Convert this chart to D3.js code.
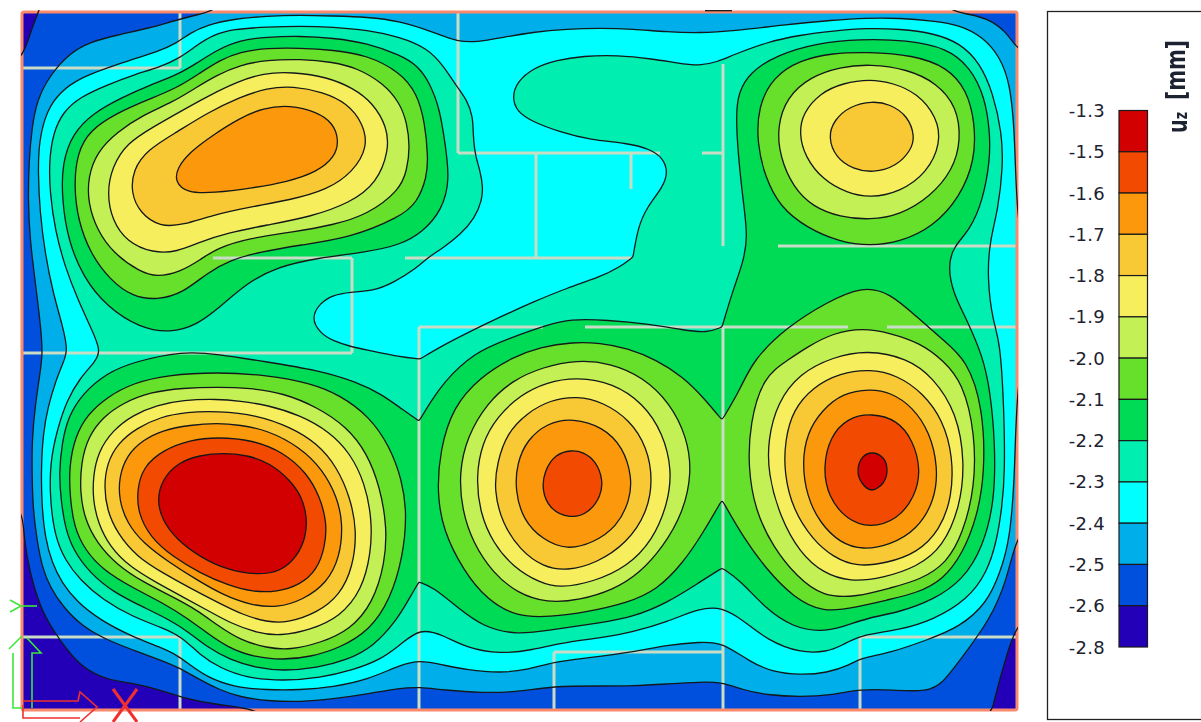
<!DOCTYPE html>
<html><head><meta charset="utf-8">
<script src="https://cdn.jsdelivr.net/npm/d3@7"></script>
<style>html,body{margin:0;padding:0;background:#fff;overflow:hidden}svg{display:block;filter:blur(0.3px)}text{font-family:"DejaVu Sans",sans-serif;fill:#1c2230}</style>
</head><body><svg id="c" width="1201" height="722"></svg>
<script>
// colour legend
const tickLabels = ["-1.3","-1.5","-1.6","-1.7","-1.8","-1.9","-2.0","-2.1","-2.2","-2.3","-2.4","-2.5","-2.6","-2.8"];
const bandColours = ["#d20000","#f24a00","#fb980c","#f9c935","#f7ee5e","#c2f055","#66e02a","#00db55","#00eeb0","#00ffff","#00aeea","#004fdd","#2300b8"];
// isolines, in plot units
const ringM26 = [[39,11],[31,30],[23,58],[8,62],[8,505],[23,510],[24,540],[30,573],[40,607],[53,630],[67,650],[83,668],[107,680],[133,683],[160,690],[183,698],[217,705],[263,709],[266,730],[988,730],[992,708],[1005,660],[1017,623],[1032,618],[1032,618],[1032,618],[1032,-8],[1032,-8],[1032,-8],[45,-8],[45,-8],[45,-8]];
const ringM25 = [[217,10],[200,14],[173,21],[150,28],[117,35],[90,42],[70,53],[50,75],[37,100],[32,127],[29,160],[28,200],[30,240],[35,280],[40,320],[43,353],[40,373],[35,407],[32,440],[32,473],[33,510],[37,540],[42,567],[50,587],[63,607],[83,627],[107,640],[133,650],[160,660],[180,668],[200,680],[220,690],[240,697],[267,701],[300,702],[333,699],[367,694],[400,688],[420,687],[443,690],[483,693],[517,692],[553,686],[600,686],[633,686],[667,684],[700,682],[722,682],[743,690],[767,695],[800,697],[833,695],[860,689],[893,690],[927,692],[943,683],[960,660],[990,620],[1007,580],[1017,533],[1032,530],[1032,52],[1017,50],[1007,32],[987,18],[967,14],[947,10],[940,-8],[225,-8]];
const ringM24 = [[1017,240],[1015,133],[1010,83],[1000,57],[983,37],[960,25],[933,21],[900,18],[867,18],[833,20],[783,25],[733,31],[700,33],[667,32],[633,29],[600,28],[567,29],[533,32],[500,38],[477,42],[458,42],[433,32],[400,21],[367,17],[333,16],[300,15],[267,16],[233,19],[207,25],[190,33],[177,43],[157,52],[133,59],[107,68],[80,78],[60,92],[47,110],[39,140],[38,173],[40,213],[45,253],[53,293],[63,327],[68,351],[63,363],[55,383],[48,407],[43,433],[41,473],[42,507],[45,537],[52,563],[62,583],[77,602],[100,620],[133,637],[160,647],[177,655],[190,665],[207,677],[233,687],[267,690],[300,690],[333,687],[367,680],[400,665],[420,660],[443,665],[467,670],[500,673],[527,670],[553,662],[587,658],[633,652],[667,645],[700,642],[722,642],[750,662],[773,672],[800,675],[827,673],[850,665],[860,658],[890,653],[927,640],[960,627],[987,603],[1000,573],[1010,540],[1015,473],[1017,365],[1032,362],[1032,243]];
const ringM23 = [[300,26],[267,27],[233,29],[213,35],[197,45],[180,58],[160,67],[133,75],[107,85],[80,97],[63,112],[53,133],[49,163],[50,193],[55,230],[65,267],[78,300],[92,330],[101,351],[95,362],[80,378],[67,400],[57,430],[50,463],[50,500],[55,537],[65,560],[80,580],[103,600],[133,617],[163,628],[182,637],[200,655],[220,668],[247,678],[283,681],[320,678],[353,670],[380,660],[400,645],[420,628],[443,635],[467,648],[500,654],[533,650],[560,643],[600,638],[633,632],[667,622],[700,608],[722,607],[743,620],[767,640],[800,653],[827,652],[843,645],[860,635],[900,630],[933,620],[967,600],[987,573],[997,540],[1002,507],[1005,473],[1004,407],[1000,340],[993,323],[987,277],[990,240],[998,210],[1003,167],[1002,133],[993,93],[980,63],[960,43],[933,33],[900,29],[867,28],[833,31],[800,35],[767,42],[733,55],[717,62],[700,66],[677,63],[653,59],[617,55],[583,56],[557,60],[533,68],[517,82],[512,97],[517,112],[533,122],[560,132],[590,140],[627,143],[650,149],[663,158],[668,172],[663,187],[647,207],[638,227],[633,257],[633,257],[620,267],[600,277],[567,288],[533,302],[500,317],[467,333],[440,347],[420,359],[420,359],[400,357],[367,350],[352,347],[333,341],[320,333],[311,318],[320,303],[333,295],[350,292],[373,291],[393,283],[417,268],[427,258],[443,248],[460,235],[475,218],[482,200],[483,187],[480,170],[475,155],[473,133],[473,117],[467,100],[457,87],[443,65],[427,48],[400,37],[367,30],[333,27]];
const ringM22a = [[300,36],[267,37],[240,40],[217,50],[197,63],[177,75],[150,85],[123,97],[93,113],[73,133],[62,163],[62,200],[68,240],[83,277],[107,307],[140,328],[170,333],[197,325],[220,307],[247,283],[277,267],[317,258],[367,252],[400,245],[423,232],[442,210],[450,180],[445,143],[440,110],[430,83],[417,65],[400,55],[367,43],[333,38]];
const ringM22b = [[183,351],[133,362],[107,373],[83,393],[68,417],[62,443],[59,473],[61,500],[65,527],[73,550],[90,573],[113,592],[143,607],[170,620],[190,633],[207,647],[230,660],[257,668],[283,671],[317,668],[347,660],[373,647],[397,620],[410,597],[419,582],[419,582],[433,587],[457,607],[483,627],[517,635],[550,630],[600,623],[633,617],[667,603],[700,582],[722,568],[722,568],[740,580],[767,610],[793,627],[820,632],[843,627],[867,618],[900,612],[933,600],[963,580],[983,547],[995,500],[995,440],[990,390],[983,357],[967,320],[953,293],[948,267],[953,247],[970,230],[983,200],[990,160],[990,133],[985,97],[970,67],[947,48],[907,40],[860,39],[817,43],[777,55],[750,72],[738,93],[736,117],[738,153],[743,200],[748,237],[743,263],[733,290],[722,327],[722,327],[707,333],[683,330],[650,324],[607,320],[570,319],[547,325],[510,338],[473,353],[443,383],[430,403],[419,421],[419,421],[403,410],[383,395],[357,382],[317,370],[267,362],[217,354]];
const ringM21a = [[300,48],[267,48],[240,52],[220,60],[200,73],[177,88],[147,100],[117,113],[90,130],[77,153],[74,187],[78,220],[90,253],[110,280],[133,297],[157,300],[183,293],[207,273],[230,260],[260,252],[300,245],[350,238],[400,217],[417,203],[427,177],[428,157],[425,123],[417,93],[400,72],[367,55],[333,50]];
const ringM21b = [[217,372],[167,375],[133,383],[107,397],[87,415],[75,437],[69,467],[70,497],[74,527],[85,550],[103,570],[133,588],[163,603],[187,618],[207,633],[227,647],[253,657],[283,660],[310,657],[340,648],[370,630],[390,600],[403,557],[407,513],[402,480],[390,447],[370,417],[340,395],[310,383],[267,375]];
const ringM21c = [[573,342],[540,347],[513,357],[480,377],[453,407],[440,450],[437,493],[443,530],[463,570],[487,600],[517,617],[550,617],[587,612],[627,603],[657,590],[683,563],[703,533],[722,500],[722,500],[743,537],[767,570],[793,597],[823,613],[857,607],[887,600],[917,593],[943,580],[963,553],[977,517],[985,473],[983,407],[967,360],[943,340],[917,317],[890,293],[863,286],[827,302],[787,327],[753,360],[740,390],[722,420],[722,420],[703,397],[683,377],[657,360],[627,348],[600,343]];
const ringM21d = [[867,52],[833,53],[800,60],[773,77],[758,107],[757,143],[765,177],[780,207],[807,228],[840,242],[870,246],[900,242],[933,227],[960,197],[975,160],[975,123],[967,90],[947,67],[913,55]];
const ringM20a = [[300,59],[267,60],[240,65],[217,75],[197,87],[173,102],[143,115],[117,132],[97,152],[88,177],[88,203],[97,230],[113,253],[140,272],[157,277],[180,272],[200,260],[217,248],[250,238],[293,232],[333,225],[367,215],[400,190],[407,170],[410,147],[407,123],[400,103],[383,83],[357,68],[333,62]];
const ringM20b = [[183,388],[150,392],[123,403],[103,417],[88,437],[81,463],[80,493],[85,520],[97,543],[117,565],[143,582],[173,597],[197,610],[217,625],[240,640],[267,648],[290,650],[320,643],[350,630],[373,603],[385,563],[387,527],[380,487],[367,453],[347,427],[317,407],[283,393],[250,388],[217,387]];
const ringM20c = [[577,360],[543,367],[513,380],[487,403],[467,437],[459,473],[462,510],[473,543],[493,573],[517,593],[547,603],[580,600],[613,590],[640,573],[663,547],[683,513],[692,473],[687,437],[670,403],[643,377],[610,363]];
const ringM20d = [[863,328],[833,333],[807,347],[788,360],[763,377],[750,423],[748,467],[755,510],[773,547],[797,577],[823,597],[857,597],[890,588],[920,580],[947,563],[963,533],[975,487],[975,433],[963,383],[943,360],[920,343],[890,333]];
const ringM20e = [[870,64],[840,67],[810,77],[787,97],[777,127],[780,157],[793,187],[813,207],[840,217],[870,220],[900,215],[930,197],[953,170],[961,140],[957,107],[937,83],[907,69]];
const ringM19a = [[293,72],[263,73],[237,82],[210,95],[183,110],[153,127],[127,143],[112,167],[107,193],[112,220],[127,242],[153,253],[177,252],[200,242],[227,233],[267,225],[310,217],[350,203],[377,183],[389,150],[387,127],[373,103],[353,88],[327,77]];
const ringM19b = [[217,399],[183,400],[157,405],[133,415],[113,430],[98,452],[93,477],[93,500],[98,523],[110,547],[130,567],[157,583],[183,597],[207,610],[230,623],[257,633],[280,636],[310,630],[340,617],[362,590],[371,553],[372,520],[365,483],[350,453],[330,432],[300,415],[267,405],[240,401]];
const ringM19c = [[577,377],[547,382],[520,395],[497,417],[482,443],[476,477],[480,513],[493,543],[513,567],[540,583],[560,588],[593,582],[627,567],[653,540],[668,503],[672,470],[663,433],[643,403],[613,383]];
const ringM19d = [[867,350],[833,357],[800,373],[777,403],[768,440],[768,473],[780,517],[800,553],[823,573],[850,582],[883,578],[917,567],[943,547],[960,507],[965,463],[957,413],[933,377],[907,358]];
const ringM19e = [[870,79],[843,83],[820,93],[803,113],[799,133],[805,157],[823,180],[847,193],[870,198],[900,192],[927,173],[941,143],[937,117],[917,93],[893,83]];
const ringM18a = [[293,86],[267,88],[240,97],[207,113],[177,132],[147,150],[133,170],[131,193],[140,213],[160,227],[183,225],[213,215],[250,207],[290,200],[327,190],[353,172],[368,147],[363,123],[347,103],[323,92]];
const ringM18b = [[217,411],[187,412],[160,417],[137,428],[118,443],[107,463],[104,487],[107,510],[117,533],[137,557],[163,573],[190,588],[217,602],[243,615],[267,622],[287,623],[317,613],[340,595],[353,567],[357,530],[350,497],[337,467],[317,443],[290,427],[257,415]];
const ringM18c = [[577,396],[550,400],[527,413],[507,433],[497,463],[494,490],[502,523],[520,550],[543,567],[567,571],[597,563],[627,543],[647,513],[653,480],[647,447],[630,420],[603,402]];
const ringM18d = [[870,369],[840,373],[813,387],[793,410],[785,440],[784,473],[793,510],[813,540],[833,557],[857,567],[887,563],[917,553],[940,530],[952,497],[953,457],[943,420],[923,393],[897,375]];
const ringM18e = [[872,101],[850,106],[834,120],[828,137],[836,158],[853,169],[873,173],[897,166],[911,150],[915,137],[908,116],[890,104]];
const ringM17a = [[290,105],[263,108],[240,118],[213,135],[190,152],[177,168],[175,182],[187,193],[213,193],[253,188],[287,182],[317,172],[335,157],[339,140],[333,123],[317,112]];
const ringM17b = [[217,423],[190,425],[163,430],[143,440],[127,455],[119,477],[119,500],[127,523],[143,543],[170,563],[197,580],[223,595],[250,605],[277,608],[303,600],[327,583],[340,557],[343,523],[337,497],[323,470],[300,447],[267,430],[240,425]];
const ringM17c = [[573,418],[547,423],[527,440],[517,463],[515,490],[523,520],[543,540],[567,550],[593,543],[617,527],[630,500],[632,477],[623,447],[603,427]];
const ringM17d = [[870,389],[843,393],[822,410],[807,433],[802,463],[807,497],[820,523],[840,543],[863,550],[890,545],[917,530],[935,500],[938,467],[930,433],[913,407],[890,392]];
const ringM16a = [[217,437],[190,440],[163,450],[143,467],[137,490],[138,513],[150,537],[173,557],[200,573],[227,585],[253,592],[277,592],[300,585],[317,570],[325,547],[327,523],[320,497],[307,473],[283,452],[253,440]];
const ringM16b = [[572,450],[555,454],[544,472],[542,490],[549,509],[570,519],[589,513],[601,496],[603,480],[596,461],[583,452]];
const ringM16c = [[872,413],[847,418],[830,437],[823,467],[828,497],[847,520],[870,528],[897,520],[915,497],[921,470],[913,440],[897,420]];
const ringM15a = [[223,453],[200,455],[177,463],[162,480],[157,500],[162,520],[177,540],[200,557],[227,570],[257,575],[280,572],[297,557],[306,537],[307,517],[302,497],[290,480],[270,463],[247,455]];
const ringM15b = [[872,453],[863,457],[858,470],[862,483],[872,490],[883,483],[887,470],[883,458]];
// short isoline stub on the top edge
const edgeStub = [[705,10.7],[732,10.7]];
// walls of the floor plan drawn over the plate
const wallSegments = [[22,68,180,68],[180,12,180,68],[458,12,458,153],[458,153,660,153],[536,153,536,258],[631,153,631,189],[405,258,632,258],[213,258,352,258],[352,258,352,353],[22,353,352,353],[702,153,723,153],[723,64,723,246],[778,246,1017,246],[419,327,543,327],[585,327,848,327],[887,327,1017,327],[419,327,419,710],[723,327,723,710],[22,637,180,637],[180,637,180,710],[554,652,723,652],[554,652,554,710],[860,637,1017,637],[860,637,860,710]];
const greenGlyphs = [[[10,600],[21,606],[10,612]],[[22,606],[37,606]],[[9,649],[22,636]],[[13,653],[13,708],[22,708]],[[27,638],[41,653],[32,653],[32,708]]];
const redGlyphs = [[[23,701],[78,701],[80,692],[97,707],[80,722]],[[23,705],[23,718],[80,718]],[[113,689],[137,722]],[[137,689],[113,722]]];

const rings = [
 [12,ringM26],[11,ringM25],[10,ringM24],[9,ringM23],
 [8,ringM22a],[8,ringM22b],
 [7,ringM21a],[7,ringM21b],[7,ringM21c],[7,ringM21d],
 [6,ringM20a],[6,ringM20b],[6,ringM20c],[6,ringM20d],[6,ringM20e],
 [5,ringM19a],[5,ringM19b],[5,ringM19c],[5,ringM19d],[5,ringM19e],
 [4,ringM18a],[4,ringM18b],[4,ringM18c],[4,ringM18d],[4,ringM18e],
 [3,ringM17a],[3,ringM17b],[3,ringM17c],[3,ringM17d],
 [2,ringM16a],[2,ringM16b],[2,ringM16c],
 [1,ringM15a],[1,ringM15b]
];

const svg = d3.select("#c");
const x = d3.scaleLinear().domain([22,1017]).range([22,1017]);
const y = d3.scaleLinear().domain([12,710]).range([12,710]);
const smooth = d3.line().x(d=>x(d[0])).y(d=>y(d[1])).curve(d3.curveBasisClosed);
const faceted = d3.line().x(d=>x(d[0])).y(d=>y(d[1])).curve(d3.curveCatmullRomClosed.alpha(0.5));
const ringPath = r => (r === ringM15b ? faceted : smooth)(r);
const open = d3.line().x(d=>d[0]).y(d=>d[1]);
const defs = svg.append("defs");
defs.append("clipPath").attr("id","fillClip").append("rect").attr("x",x(22)).attr("y",y(12)).attr("width",x(1017)-x(22)).attr("height",y(710)-y(12));
defs.append("clipPath").attr("id","lineClip").append("rect").attr("x",x(22)-1).attr("y",y(12)-2).attr("width",x(1017)-x(22)+2).attr("height",y(710)-y(12)+3);

const fills = svg.append("g").attr("clip-path","url(#fillClip)");
fills.append("rect").attr("x",x(22)).attr("y",y(12)).attr("width",x(1017)-x(22)).attr("height",y(710)-y(12)).attr("fill",bandColours[12]);
fills.selectAll("path").data(rings).join("path")
  .attr("d",d=>ringPath(d[1])).attr("fill",d=>bandColours[d[0]-1]);

svg.append("g").selectAll("line").data(wallSegments).join("line")
  .attr("x1",d=>x(d[0])).attr("y1",d=>y(d[1])).attr("x2",d=>x(d[2])).attr("y2",d=>y(d[3]))
  .attr("stroke","#c9dcc6").attr("stroke-width",3);

svg.append("rect").attr("x",x(22)).attr("y",y(12)).attr("width",x(1017)-x(22)).attr("height",y(710)-y(12))
  .attr("rx",2).attr("fill","none").attr("stroke","#fb8a6c").attr("stroke-width",3);

svg.append("g").attr("clip-path","url(#lineClip)").selectAll("path").data(rings).join("path")
  .attr("d",d=>ringPath(d[1])).attr("fill","none").attr("stroke","#14181a").attr("stroke-width",1.3);
svg.append("path").attr("d",open(edgeStub.map(p=>[x(p[0]),y(p[1])]))).attr("fill","none").attr("stroke","#14181a").attr("stroke-width",1.3);

svg.append("g").selectAll("path").data(greenGlyphs).join("path").attr("d",open).attr("fill","none").attr("stroke","#3be83b").attr("stroke-width",1.6);
svg.append("g").selectAll("path").data(redGlyphs).join("path").attr("d",open).attr("fill","none").attr("stroke","#f03030").attr("stroke-width",(d,i)=>i>1?3:1.6);

// legend
svg.append("rect").attr("x",1047.5).attr("y",11.5).attr("width",160).attr("height",708).attr("fill","#fff").attr("stroke","#222").attr("stroke-width",1.3);
const bandY = d3.scalePoint().domain(d3.range(tickLabels.length)).range([110.5,647]);
svg.append("g").selectAll("rect").data(bandColours).join("rect")
  .attr("x",1119).attr("width",28.5).attr("y",(d,i)=>bandY(i)).attr("height",(d,i)=>bandY(i+1)-bandY(i))
  .attr("fill",d=>d).attr("stroke","#1a1a1a").attr("stroke-width",1.2);
svg.append("g").selectAll("text").data(tickLabels).join("text")
  .attr("x",1105).attr("y",(d,i)=>bandY(i)+6.5).attr("text-anchor","end").attr("font-size",18).attr("letter-spacing","0.3px").text(d=>d);
svg.append("text").attr("transform","translate(1185,100) rotate(-90)").attr("font-size",26).attr("font-weight","bold")
  .attr("textLength",60).attr("lengthAdjust","spacingAndGlyphs").text("[mm]");
const title = svg.append("text").attr("transform","translate(1186.5,133) rotate(-90)").attr("font-size",26).attr("font-weight","bold")
  .attr("textLength",21).attr("lengthAdjust","spacingAndGlyphs");
title.append("tspan").text("u");
title.append("tspan").attr("font-size",17).text("z");
</script></body></html>
